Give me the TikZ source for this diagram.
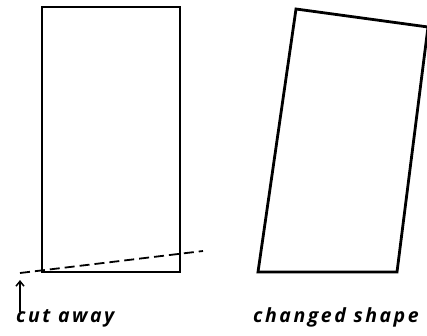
\documentclass[tikz,border=0pt]{standalone}
\usepackage{fontspec}
\newfontfamily\handfont[LetterSpace=13]{Open Sans}
\usetikzlibrary{arrows.meta,positioning}
\tikzset{
  outline/.style={line width=2.8pt,line join=miter},
  cutline/.style={line width=1.8pt,dash pattern=on 10pt off 5pt},
  pointer/.style={line width=1.5pt,-{Straight Barb[length=5pt,width=8pt]},shorten >=7pt},
  hand/.style={font=\handfont\bfseries\itshape\fontsize{19.5}{22}\selectfont,inner sep=0pt}
}

\begin{document}
\begin{tikzpicture}[x=1pt,y=-1pt]
  \useasboundingbox (0,0) rectangle (427,335);
  % original block and the cut
  \draw[outline] (42,7) rectangle (180,272);
  \coordinate (cutstart) at (20,273);
  \coordinate (cutend) at (203,251);
  \draw[cutline] (cutstart)--(cutend);
  \node[hand,anchor=base west] (cutlabel) at (16,322) {cut away};
  \coordinate (arrowfoot) at (20,312);
  \draw[pointer] (arrowfoot)--(cutstart);
  % the block after cutting
  \draw[outline] (258,272)--(296,9)--(428,27)--(397,272)--cycle;
  \node[hand,anchor=base west] (shapelabel) at (253,322) {changed shape};
\end{tikzpicture}
\end{document}
